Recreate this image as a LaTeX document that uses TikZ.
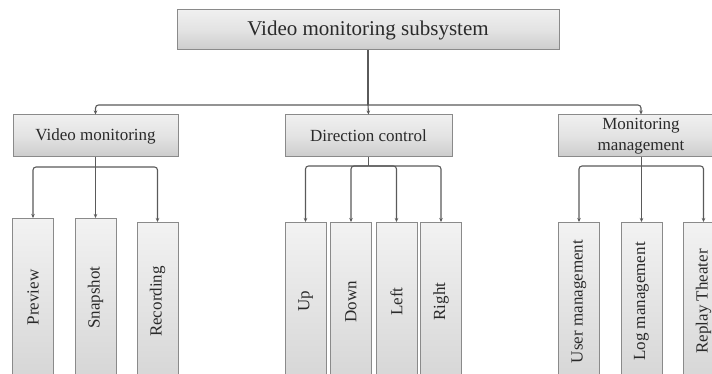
\documentclass[tikz,border=0pt]{standalone}
\usepackage{fontspec}
\setmainfont{Liberation Serif}
\usetikzlibrary{arrows.meta}
\definecolor{boxline}{HTML}{8A8A8A}
\definecolor{conncol}{HTML}{5A5A5A}
\definecolor{txtcol}{HTML}{2A2A2A}
\begin{document}
\begin{tikzpicture}[x=1pt,y=-1pt,
  hbox/.style={draw=boxline, line width=1pt, top color=gray!12, bottom color=gray!40,
    middle color=gray!22, text=txtcol, inner sep=0pt, align=center, font=\fontsize{17}{19}\selectfont},
  leafbox/.style={draw=boxline, line width=1pt, rotate=90, anchor=east,
    top color=gray!10, bottom color=gray!32, text=txtcol, inner sep=0pt,
    minimum width=158pt, minimum height=41pt, font=\fontsize{17}{19}\selectfont},
  conn/.style={draw=conncol, line width=1.1pt, rounded corners=3pt},
  arr/.style={conn, -{Stealth[length=4pt,width=3.5pt]}}]
\useasboundingbox (0,0) rectangle (712,374);
\clip (0,0) rectangle (712,374);
\fill[white] (0,0) rectangle (712,374);

% top
\node[hbox, minimum width=382pt, minimum height=40pt, font=\fontsize{21}{23}\selectfont] (top) at (368,30) {Video monitoring subsystem};

% level 2
\node[hbox, minimum width=165pt, minimum height=42pt] (vm) at (95.5,136) {Video monitoring};
\node[hbox, minimum width=167pt, minimum height=42pt] (dc) at (368.5,136) {Direction control};
\node[hbox, minimum width=166pt, minimum height=42pt, font=\fontsize{17}{21}\selectfont] (mm) at (641,136) {Monitoring\\management};

\coordinate (bus) at (368,105);
\draw[conn] (top.south) -- (bus);
\draw[arr] (bus) -| (vm.north);
\draw[arr] (bus) -- (dc.north);
\draw[arr] (bus) -| (mm.north);

% leaves
\node[leafbox] (pre) at (33,218) {Preview};
\node[leafbox] (snap) at (95.5,218) {Snapshot};
\node[leafbox] (rec) at (157.5,222) {Recording};
\node[leafbox] (up) at (305.5,222) {Up};
\node[leafbox] (down) at (351,222) {Down};
\node[leafbox] (left) at (396.5,222) {Left};
\node[leafbox] (right) at (441,222) {Right};
\node[leafbox] (user) at (579,222) {User management};
\node[leafbox] (log) at (641.5,222) {Log management};
\node[leafbox] (rep) at (703.5,222) {Replay Theater};

% level-2 buses
\coordinate (b1) at (95.5,167);
\draw[conn] (vm.south) -- (b1);
\draw[arr] (b1) -| (pre.east);
\draw[arr] (b1) -- (snap.east);
\draw[arr] (b1) -| (rec.east);

\coordinate (b2) at (368.5,166);
\draw[conn] (dc.south) -- (b2);
\draw[arr] (b2) -| (up.east);
\draw[arr] (b2) -| (down.east);
\draw[arr] (b2) -| (left.east);
\draw[arr] (b2) -| (right.east);

\coordinate (b3) at (641.5,166);
\draw[conn] (mm.south -| b3) -- (b3);
\draw[arr] (b3) -| (user.east);
\draw[arr] (b3) -- (log.east);
\draw[arr] (b3) -| (rep.east);
\end{tikzpicture}
\end{document}
